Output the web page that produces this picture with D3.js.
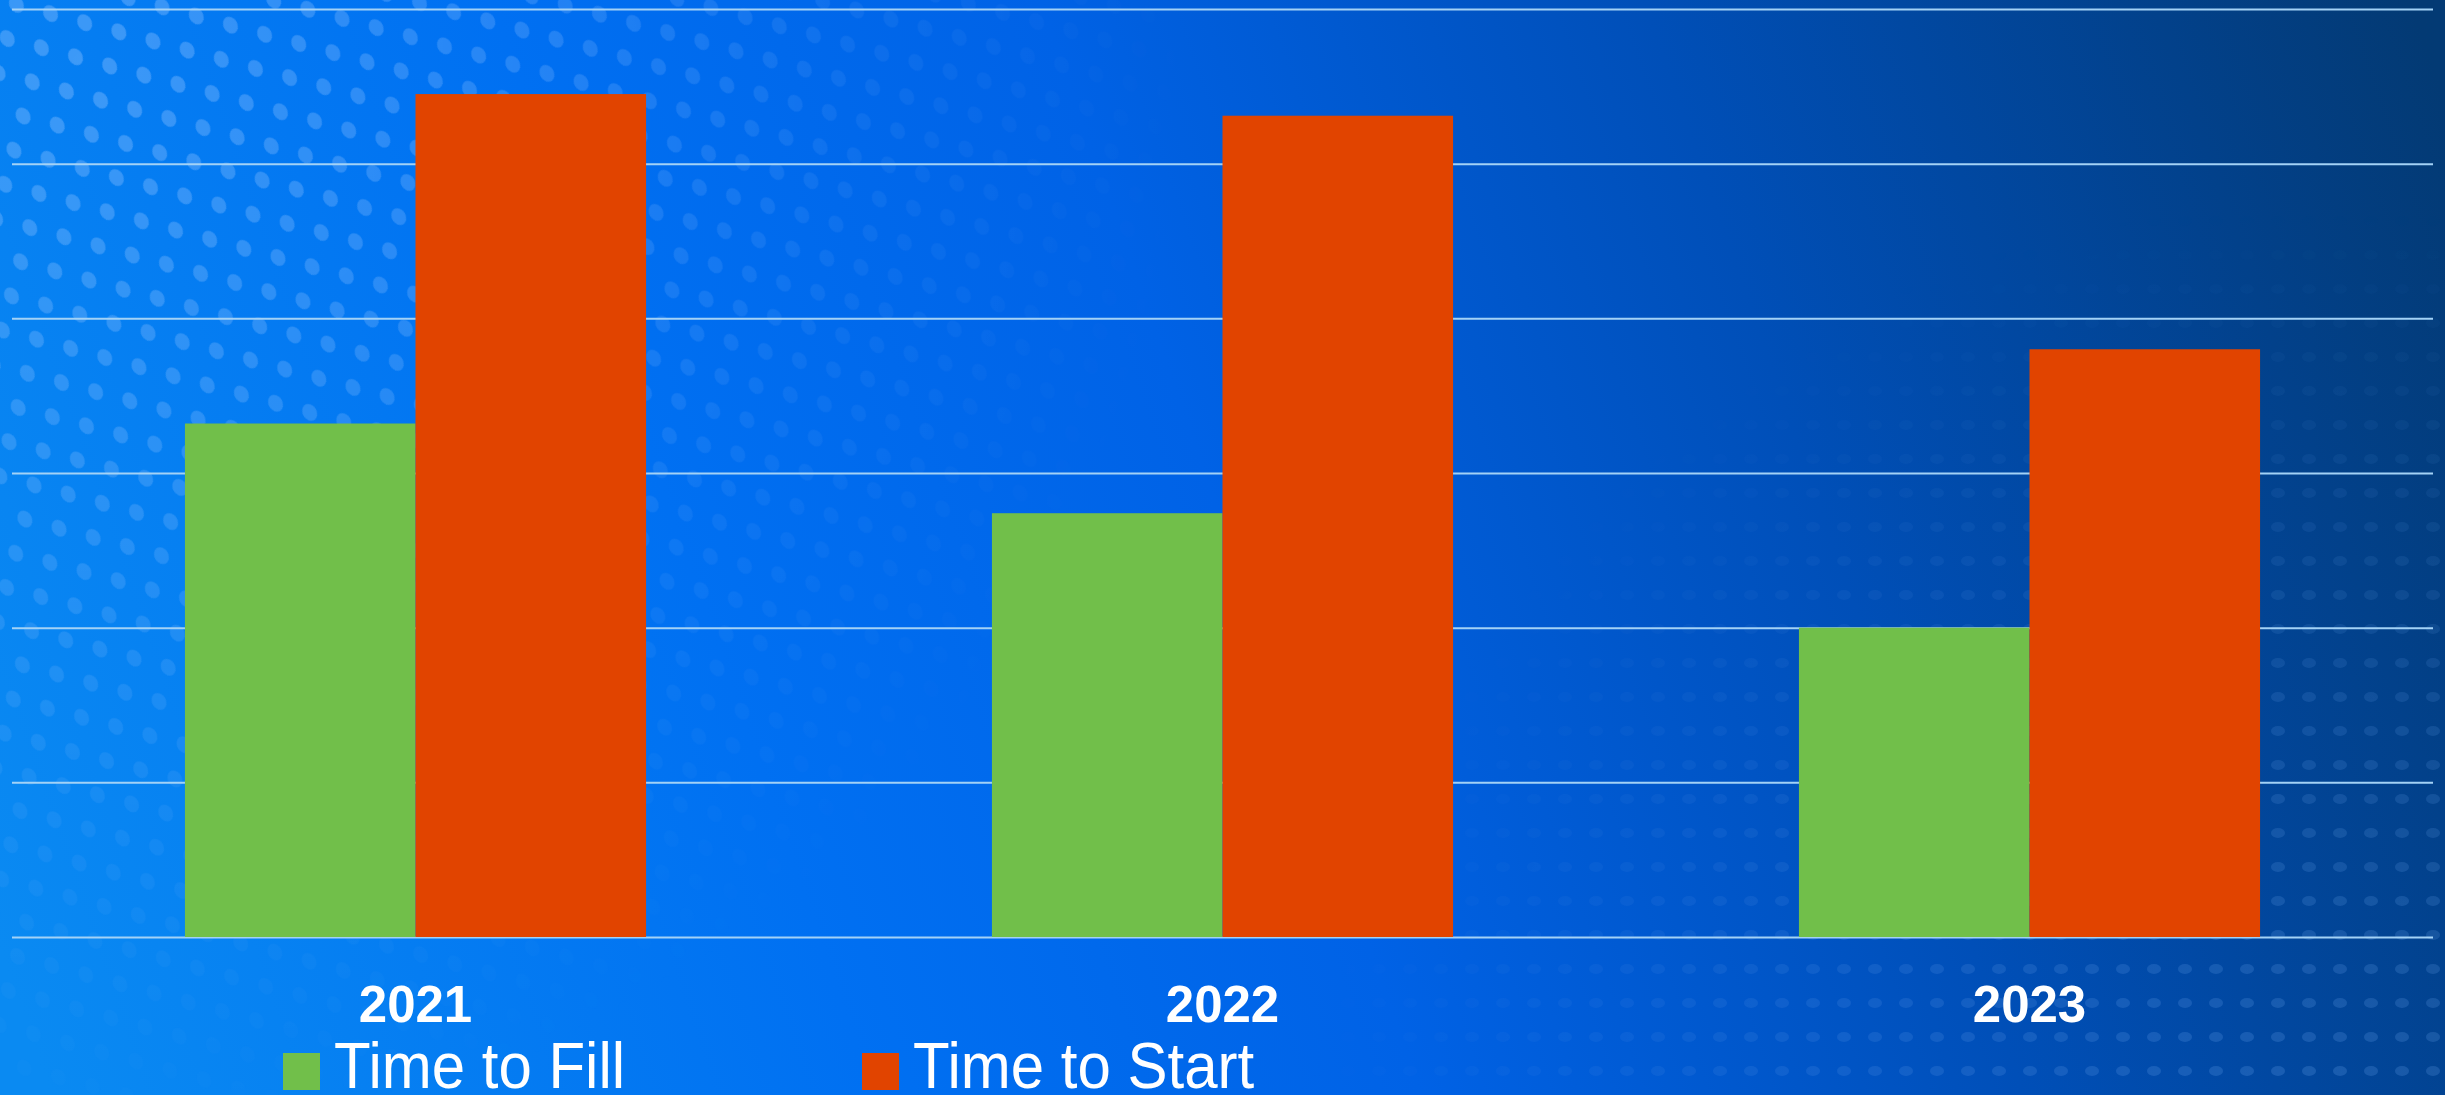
<!DOCTYPE html>
<html lang="en">
<head>
    <meta charset="UTF-8">
    <title>Time to Fill / Time to Start</title>
    <script src="https://d3js.org/d3.v7.min.js"></script>
    <style>
        html, body { margin: 0; padding: 0; overflow: hidden; }
        svg { display: block; }
        .grid line { stroke: #a3d2f6; stroke-width: 2px; }
        .grid path { display: none; }
        .xaxis path { display: none; }
        .xaxis text { font: bold 51px "Liberation Sans", Arial, sans-serif; fill: #fff; }
        .legend text { font: 60px "Liberation Sans", Arial, sans-serif; fill: #fff; }
    </style>
</head>
<body>
    <svg width="2445" height="1095"></svg>

    <script>
        // data (one gridline = 10)
        const years = ["2021", "2022", "2023"];
        const seriesNames = ["Time to Fill", "Time to Start"];
        const timeToFill = [33.2, 27.4, 20.0];
        const timeToStart = [54.5, 53.1, 38.0];
        const yTicks = [0, 10, 20, 30, 40, 50, 60];
        const colors = ["#71bf4a", "#e14400"];

        const W = 2445, H = 1095;
        const plotLeft = 12, plotRight = 2433, plotTop = 9, plotBottom = 937;

        const svg = d3.select("svg");
        const defs = svg.append("defs");

        // background gradient, bright blue bottom-left to navy top-right
        const bg = defs.append("linearGradient")
            .attr("id", "bg").attr("gradientUnits", "userSpaceOnUse")
            .attr("x1", 0).attr("y1", 950).attr("x2", W).attr("y2", 100);
        [[0, "#0a8af2"], [0.3, "#0070f2"], [0.5, "#0062e6"], [0.72, "#004fb8"], [1, "#033a74"]]
            .forEach(s => bg.append("stop").attr("offset", s[0]).attr("stop-color", s[1]));

        // halftone dots, top-left
        const p1 = defs.append("pattern").attr("id", "dots1")
            .attr("patternUnits", "userSpaceOnUse").attr("width", 50).attr("height", 50)
            .attr("patternTransform", "rotate(-30)");
        p1.append("ellipse").attr("cx", 12).attr("cy", 12).attr("rx", 7).attr("ry", 9).attr("fill", "#8cc0ff");
        p1.append("ellipse").attr("cx", 37).attr("cy", 37).attr("rx", 7).attr("ry", 9).attr("fill", "#8cc0ff");

        const m1g = defs.append("radialGradient").attr("id", "m1g")
            .attr("gradientUnits", "userSpaceOnUse").attr("cx", 80).attr("cy", 60).attr("r", 1100);
        [[0, 0.42], [0.4, 0.27], [0.7, 0.1], [1, 0]]
            .forEach(s => m1g.append("stop").attr("offset", s[0]).attr("stop-color", "#fff").attr("stop-opacity", s[1]));
        defs.append("mask").attr("id", "m1").append("rect")
            .attr("width", W).attr("height", H).attr("fill", "url(#m1g)");

        // halftone dots, bottom-right
        const p2 = defs.append("pattern").attr("id", "dots2")
            .attr("patternUnits", "userSpaceOnUse").attr("width", 31).attr("height", 34);
        p2.append("ellipse").attr("cx", 15).attr("cy", 17).attr("rx", 7).attr("ry", 5).attr("fill", "#6fa8f0");

        const m2g = defs.append("radialGradient").attr("id", "m2g")
            .attr("gradientUnits", "userSpaceOnUse").attr("cx", 2300).attr("cy", 1200).attr("r", 1000);
        [[0, 0.25], [0.5, 0.15], [1, 0]]
            .forEach(s => m2g.append("stop").attr("offset", s[0]).attr("stop-color", "#fff").attr("stop-opacity", s[1]));
        defs.append("mask").attr("id", "m2").append("rect")
            .attr("width", W).attr("height", H).attr("fill", "url(#m2g)");

        svg.append("rect").attr("width", W).attr("height", H).attr("fill", "url(#bg)");
        svg.append("rect").attr("width", W).attr("height", H).attr("fill", "url(#dots1)").attr("mask", "url(#m1)");
        svg.append("rect").attr("width", W).attr("height", H).attr("fill", "url(#dots2)").attr("mask", "url(#m2)");

        // scales
        const x0 = d3.scaleBand().domain(years).range([plotLeft, plotRight])
            .paddingInner(0.4286).paddingOuter(0.2143);
        const x1 = d3.scaleBand().domain(seriesNames).range([0, x0.bandwidth()]);
        const y = d3.scaleLinear().domain([0, 60]).range([plotBottom, plotTop]);

        // gridlines
        svg.append("g").attr("class", "grid")
            .attr("transform", `translate(${plotLeft},0)`)
            .call(d3.axisLeft(y).tickValues(yTicks).tickSize(-(plotRight - plotLeft)).tickFormat(""));

        // bars
        const rows = years.map((yr, i) => ({ year: yr, values: [timeToFill[i], timeToStart[i]] }));
        svg.append("g").selectAll("g")
            .data(rows)
            .join("g")
            .attr("transform", d => `translate(${x0(d.year)},0)`)
            .selectAll("rect")
            .data(d => d.values.map((v, j) => ({ key: seriesNames[j], value: v, j })))
            .join("rect")
            .attr("x", d => x1(d.key))
            .attr("width", x1.bandwidth())
            .attr("y", d => y(d.value))
            .attr("height", d => y(0) - y(d.value))
            .attr("fill", d => colors[d.j]);

        // category labels
        const xa = svg.append("g").attr("class", "xaxis")
            .attr("transform", `translate(0,${plotBottom})`)
            .call(d3.axisBottom(x0).tickSize(0).tickPadding(0));
        xa.selectAll("text").attr("dy", null).attr("y", 85);

        // legend (text a touch taller than wide, as in the source)
        const legendX = [283, 862];
        const lg = svg.append("g").attr("class", "legend")
            .selectAll("g").data(seriesNames).join("g")
            .attr("transform", (d, i) => `translate(${legendX[i]},1053)`);
        lg.append("rect").attr("width", 37).attr("height", 37).attr("fill", (d, i) => colors[i]);
        lg.append("text")
            .attr("transform", "translate(51,35) scale(1,1.07)")
            .text(d => d);
    </script>
</body>
</html>
